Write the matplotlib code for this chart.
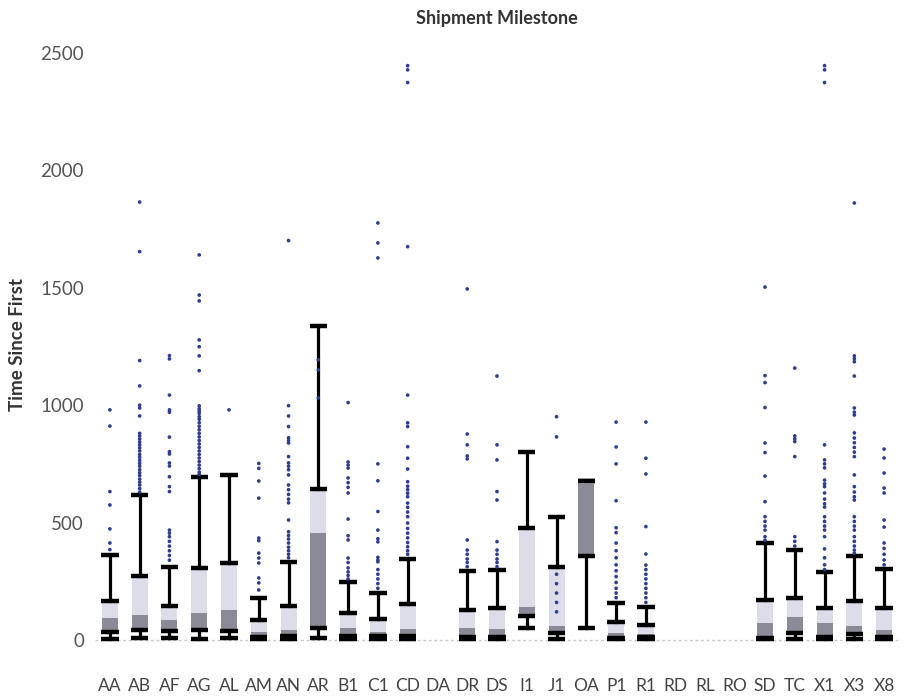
import matplotlib.pyplot as plt
import numpy as np

nan = np.nan

categorias = ["AA", "AB", "AF", "AG", "AL", "AM", "AN", "AR", "B1", "C1", "CD", "DA", "DR", "DS",
              "I1", "J1", "OA", "P1", "R1", "RD", "RL", "RO", "SD", "TC", "X1", "X3", "X8"]

minimos = [5, 8, 8, 3, 10, 5, 5, 8, 3, 5, 5, nan, 5, 5, 52, 5, 52, 3, 3, nan, nan, nan, 3, 5, 3, 5, 3]
q1 = [35, 43, 38, 43, 40, 12, 15, 52, 15, 15, 15, nan, 12, 12, 104, 30, 358, 10, 12, nan, nan, nan, 10, 31, 12, 25, 12]
medianas = [95, 105, 85, 115, 128, 35, 43, 454, 50, 35, 47, nan, 52, 47, 142, 60, 665, 30, 26, nan, nan, nan, 74, 99, 72, 60, 43]
q3 = [167, 273, 146, 306, 328, 85, 146, 643, 116, 89, 153, nan, 128, 136, 476, 312, 675, 78, 64, nan, nan, nan, 170, 177, 138, 167, 136]
maximos = [360, 618, 312, 695, 703, 178, 332, 1339, 247, 200, 346, nan, 294, 298, 802, 524, 675, 159, 142, nan, nan, nan, 412, 383, 291, 358, 302]

puntos = {
    "AA": [980, 911, 632, 575, 473, 413, 385],
    "AB": [1865, 1654, 1190, 1082, 1000, 988, 954, 880, 868, 855, 842, 830, 818, 805, 790, 778, 765,
           752, 740, 725, 712, 700, 685, 672, 660, 645, 630],
    "AF": [1211, 1197, 1043, 980, 970, 864, 802, 792, 754, 741, 695, 653, 632, 468, 455, 440, 420,
           400, 380, 360, 340],
    "AG": [1640, 1469, 1444, 1278, 1249, 1210, 1147, 997, 985, 975, 965, 951, 940, 925, 910, 895,
           880, 865, 850, 835, 820, 805, 790, 775, 760, 745, 730, 715, 705],
    "AL": [980],
    "AM": [752, 731, 677, 604, 434, 423, 370, 349, 328, 264, 243, 213],
    "AN": [1701, 998, 954, 909, 861, 850, 839, 781, 754, 740, 725, 703, 660, 640, 620, 600, 584,
           511, 461, 445, 430, 413, 395, 380, 365, 350],
    "AR": [1193, 1150, 1031],
    "B1": [1011, 758, 745, 732, 690, 670, 650, 626, 515, 444, 426, 349, 330, 307, 290, 275, 260],
    "C1": [1776, 1691, 1627, 750, 678, 547, 468, 431, 418, 352, 340, 333, 300, 280, 260, 240, 220],
    "CD": [2446, 2428, 2374, 1675, 1043, 925, 909, 823, 774, 728, 674, 655, 640, 625, 610, 583,
           565, 545, 525, 498, 475, 455, 435, 415, 397, 380, 365],
    "DR": [1495, 877, 831, 784, 771, 426, 383, 365, 345, 330, 312],
    "DS": [1124, 831, 767, 632, 596, 419, 383, 365, 345, 330, 312],
    "J1": [951, 865, 280, 240, 200, 160, 120],
    "P1": [928, 822, 750, 593, 478, 457, 413, 380, 350, 320, 295, 270, 245, 220, 200, 180],
    "R1": [928, 774, 707, 483, 366, 319, 300, 280, 260, 240, 220, 200, 180, 160],
    "SD": [1503, 1126, 1096, 990, 839, 798, 698, 589, 525, 505, 485, 468, 440, 425],
    "TC": [1158, 869, 857, 845, 781, 440, 420, 400],
    "X1": [2446, 2428, 2374, 831, 767, 750, 733, 681, 665, 653, 626, 600, 580, 566, 525, 505, 485,
           468, 440, 388, 350, 320, 300],
    "X3": [1861, 1210, 1198, 1185, 1124, 988, 970, 958, 882, 860, 840, 820, 800, 781, 703, 653,
           630, 610, 596, 525, 505, 485, 468, 440, 420, 400, 383, 370],
    "X8": [813, 775, 711, 647, 626, 511, 481, 413, 390, 365, 341, 320],
}

plt.rcParams["font.family"] = ["Lato", "DejaVu Sans"]

fig = plt.figure(figsize=(9.09, 7.0), dpi=100)
ax = fig.add_axes([0.1045, 0.0589, 0.8845, 0.899])

ancho = 0.54
ancho_cap = 0.58

# linea de base punteada
ax.axhline(0, color="#c8c8c8", lw=1, ls=(0, (2, 2)), zorder=0)

for i, cat in enumerate(categorias):
    if np.isnan(medianas[i]):
        continue

    # bigotes (por fuera de la caja)
    ax.plot([i, i], [q3[i], maximos[i]], color="black", lw=2.3, zorder=3)
    ax.plot([i, i], [minimos[i], q1[i]], color="black", lw=2.3, zorder=3)

    # caja: parte baja oscura, parte alta clara
    ax.bar(i, medianas[i] - q1[i], bottom=q1[i], width=ancho, color="#8a8b96", edgecolor="none", zorder=2)
    ax.bar(i, q3[i] - medianas[i], bottom=medianas[i], width=ancho, color="#dcdde9", edgecolor="none", zorder=2)

    for v in [minimos[i], q1[i], q3[i], maximos[i]]:
        ax.plot([i - ancho_cap / 2, i + ancho_cap / 2], [v, v], color="black", lw=3.2,
                solid_capstyle="butt", zorder=4)

    p = puntos.get(cat, [])
    if len(p) > 0:
        ax.scatter([i] * len(p), p, s=7, color="#2e3d8f", edgecolors="none", zorder=5)

ax.set_xlim(-0.5, len(categorias) - 0.5)
ax.set_ylim(-80, 2600)
ax.set_xticks(range(len(categorias)))
ax.set_xticklabels(categorias)
ax.set_yticks([0, 500, 1000, 1500, 2000, 2500])
ax.tick_params(axis="x", length=0, pad=14, labelsize=12.5, labelcolor="#444444")
ax.tick_params(axis="y", length=0, pad=8, labelsize=13.5, labelcolor="#555555")

for s in ax.spines.values():
    s.set_visible(False)

ax.set_title("Shipment Milestone", fontsize=13, fontweight="bold", color="#333333", pad=4)
ax.set_ylabel("Time Since First", fontsize=13.5, fontweight="bold", color="#333333", labelpad=10)

fig.savefig("out.png", dpi=100)
